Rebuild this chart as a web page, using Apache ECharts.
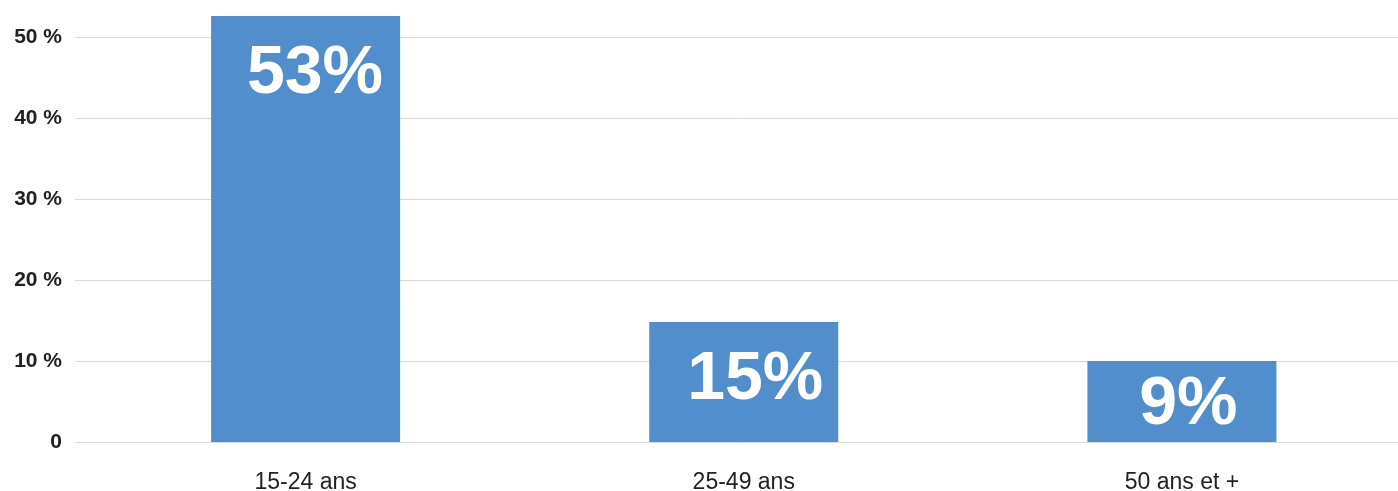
<!DOCTYPE html>
<html>
<head>
<meta charset="utf-8">
<script src="https://cdn.jsdelivr.net/npm/echarts@6/dist/echarts.min.js"></script>
<style>
  html, body { margin: 0; padding: 0; background: #fff; }
  #chart { width: 1398px; height: 491px; }
</style>
</head>
<body>
<div id="chart"></div>
<script>
// données
var categories = ['15-24 ans', '25-49 ans', '50 ans et +'];
var values = [52.6, 14.8, 10.0];
var valueLabels = ['53%', '15%', '9%'];
var yMin = 0, yMax = 50, yStep = 10;

// décalage des étiquettes dans les barres (mise en page seulement)
var labelOffsets = [[-17, 24], [-15, 24], [-39, 10]];

var chart = echarts.init(document.getElementById('chart'));
var barColor = '#518ecb';

var option = {
    animation: false,
    grid: [
        {left: 75, right: 0, top: 37, bottom: 49, outerBoundsMode: 'none'},    // axe Y + lignes
        {left: 86.5, right: -3, top: 37, bottom: 49, outerBoundsMode: 'none'}  // barres
    ],
    xAxis: [
        {gridIndex: 0, type: 'category', data: categories, show: false},
        {
            gridIndex: 1,
            type: 'category',
            data: categories,
            axisLine: {show: false},
            axisTick: {show: false},
            axisLabel: {
                color: '#222',
                fontFamily: 'Liberation Sans, Arial, sans-serif',
                fontSize: 23,
                margin: 29
            }
        }
    ],
    yAxis: [
        {
            gridIndex: 0,
            type: 'value',
            min: yMin,
            max: yMax,
            interval: yStep,
            axisLine: {show: false},
            axisTick: {show: false},
            splitLine: {lineStyle: {color: '#d9d9d9', width: 1}},
            axisLabel: {
                color: '#222',
                fontWeight: 'bold',
                fontFamily: 'Liberation Sans, Arial, sans-serif',
                fontSize: 21,
                margin: 13,
                formatter: function (v) { return v === 0 ? '0' : v + ' %'; }
            }
        },
        {gridIndex: 1, type: 'value', min: yMin, max: yMax, interval: yStep, show: false}
    ],
    series: [{
        type: 'bar',
        xAxisIndex: 1,
        yAxisIndex: 1,
        clip: false,
        barWidth: 189,
        itemStyle: {color: barColor},
        data: values.map(function (v, i) {
            return {
                value: v,
                label: {
                    show: true,
                    position: 'insideTopRight',
                    distance: 0,
                    offset: labelOffsets[i],
                    formatter: valueLabels[i],
                    color: '#fff',
                    fontWeight: 'bold',
                    fontFamily: 'Liberation Sans, Arial, sans-serif',
                    fontSize: 68
                }
            };
        })
    }]
};
chart.setOption(option);
</script>
</body>
</html>
